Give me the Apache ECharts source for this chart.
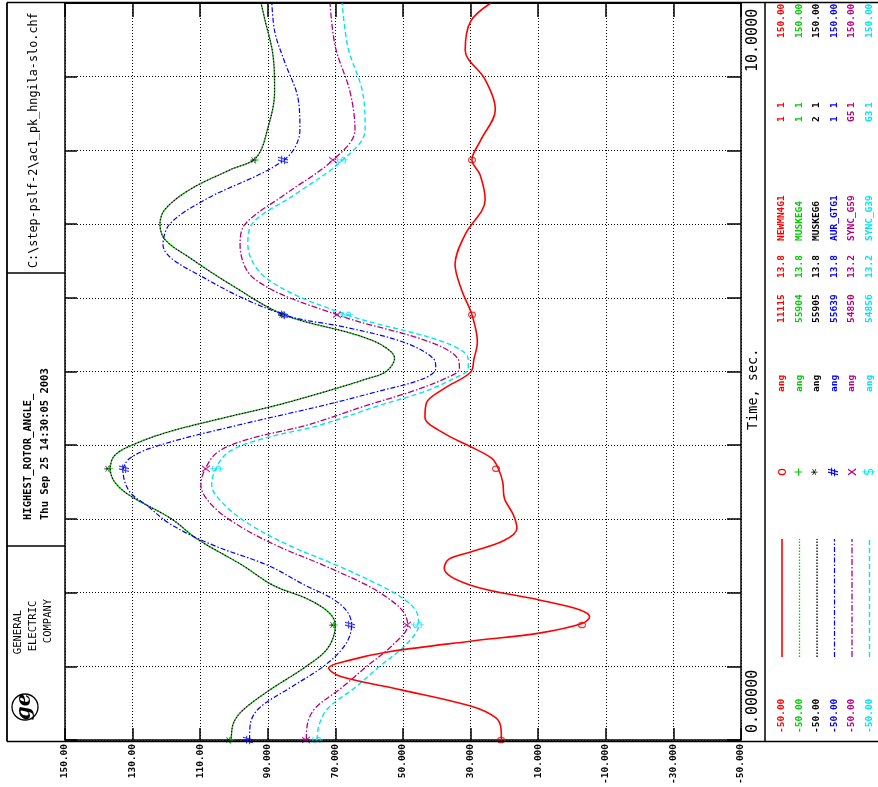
<!DOCTYPE html>
<html><head><meta charset="utf-8">
<script src="https://cdn.jsdelivr.net/npm/echarts@6/dist/echarts.min.js"></script>
<style>html,body{margin:0;padding:0;background:#fff}#c{width:878px;height:787px}</style>
</head><body><div id="c"></div>
<script>
// ---------- data ----------
const angleTicks = [150,130,110,90,70,50,30,10,-10,-30,-50];
const angleTickLabels = ['150.00','130.00','110.00','90.000','70.000','50.000','30.000','10.000','-10.000','-30.000','-50.000'];
const timeTicks = [0,1,2,3,4,5,6,7,8,9,10];
const markTimes = [0,1.56,3.68,5.77,7.87];

const redTime  = [0,0.15,0.3,0.46,0.68,0.86,0.975,1.08,1.2,1.34,1.45,1.58,1.67,1.77,1.9,2.1,2.33,2.45,2.55,2.71,2.87,3.05,3.28,3.5,3.68,3.82,3.98,4.16,4.38,4.58,4.77,4.99,5.17,5.4,5.77,6.1,6.45,6.86,7.33,7.67,7.87,8.14,8.55,8.96,9.36,9.75,10];
const redAngle = [20.9,21,22.5,30,50.5,68.4,72,66,53.7,30,9.7,-3,-5.2,-2,9.7,30,37.8,36.5,30,20,16.3,17.3,20,20.5,21.8,23.7,30,37.8,43.5,43,37.8,30,29,28,29.6,32.6,34.6,31.6,25.7,27.2,29.6,27,22.7,25.7,31.6,30,24];

const greenTime  = [0,0.21,0.39,0.66,1.0,1.25,1.56,1.74,1.92,2.1,2.37,2.73,3.0,3.32,3.5,3.68,3.86,4.0,4.18,4.36,4.54,4.72,4.9,5.0,5.18,5.35,5.5,5.77,6.18,6.54,6.79,7.0,7.2,7.47,7.74,7.9,8.3,8.8,9.3,9.8,10];
const greenAngle = [100.8,100.3,97.7,90,78.6,72.2,70,72.2,78.6,88.5,97.5,111,118.5,130.9,135.3,136.6,135.3,130.2,119.4,104,87.5,73.5,60.7,55,52.5,56,64,85.2,101,113,120.4,121.9,120.4,113,101,93.5,90,88,88.5,91,92];
const blackTime  = greenTime;
const blackAngle = greenAngle;

const blueTime  = [0,0.21,0.43,0.7,1.0,1.29,1.56,1.74,1.92,2.1,2.37,2.64,2.92,3.19,3.37,3.64,3.82,4.0,4.27,4.54,4.72,4.9,5.04,5.17,5.4,5.6,5.77,6.25,6.72,7.0,7.33,7.87,8.28,8.69,9.2,9.6,10];
const blueAngle = [95.4,95.2,92.6,83.7,73.5,67.1,65.2,66.5,71,79,90,106,118.5,126,130.9,132.8,130.9,122,99,73.5,58.2,44.1,40.3,40.9,50,67,85.2,108,121,119,108.6,85.2,80.5,81,85,87.9,88.8];

const magentaTime  = [0,0.21,0.43,0.7,1.0,1.29,1.56,1.74,1.92,2.1,2.37,2.64,2.92,3.19,3.46,3.68,3.91,4.09,4.27,4.54,4.72,4.9,5.04,5.17,5.4,5.77,6.25,6.72,7.0,7.4,7.87,8.28,8.8,9.4,10];
const magentaAngle = [78.6,78.3,76,68.4,60.7,53,48.6,49.9,54.3,60.7,73.5,87.5,99,106.6,109.8,108.5,104.7,95.1,78.6,60.7,48,37.8,33.3,33.7,42,69.5,93.8,98.2,96.7,85,70.7,64.2,65.7,70,71.6];

const cyanTime  = [0,0.21,0.43,0.7,1.0,1.29,1.56,1.74,1.92,2.1,2.37,2.64,2.92,3.19,3.46,3.68,3.91,4.09,4.27,4.54,4.72,4.9,5.04,5.17,5.4,5.77,6.25,6.72,7.0,7.4,7.87,8.28,8.8,9.4,10];
const cyanAngle = [75.4,74.8,72.2,64.5,56.9,49.2,45.4,46,50,56.9,69.6,83.7,95.2,102.8,106.6,105.4,101.5,91.3,74.8,56.9,44.1,35.2,30.7,30.7,38,66.6,90,95.9,94.7,82,67.8,61.2,62,66.3,68];

const redMarks     = [20.9,-3.1,22.4,29.6,29.6];
const greenMarks   = [100.8,70,136.6,85.2,93.5];
const blackMarks   = [100.8,70,136.6,85.2,93.5];
const blueMarks    = [95.4,65.2,132,85.2,85.2];
const magentaMarks = [78.6,48.6,108.2,69.5,70.7];
const cyanMarks    = [75.4,45.4,105,66.6,67.8];

const legendNames = ['NEWMN4G1','MUSKEG4','MUSKEG6','AUR_GTG1','SYNC_G59','SYNC_G39'];
const legendBuses = ['11115','55904','55905','55639','54850','54856'];
const legendKv    = ['13.8','13.8','13.8','13.8','13.2','13.2'];
const legendId1   = ['1','1','2','1','G5','G3'];
const legendId2   = ['1','1','1','1','1','1'];
const legendMin   = ['-50.00','-50.00','-50.00','-50.00','-50.00','-50.00'];
const legendMax   = ['150.00','150.00','150.00','150.00','150.00','150.00'];
const legendQty   = ['ang','ang','ang','ang','ang','ang'];
const markChars   = ['o','+','*','#','x','$'];

// ---------- styles ----------
const styles = [
  {color:'#ff0000', dash:'solid', width:1.6, z:6},
  {color:'#00cc00', dash:[1.5,1.5], width:1.3, z:3, offset:0},
  {color:'#000000', dash:[1.5,1.5], width:1.3, z:4, offset:1.5},
  {color:'#0000ff', dash:[5,2,1.5,2], width:1.2, z:5},
  {color:'#b5007f', dash:[6,2,1.5,2], width:1.3, z:5},
  {color:'#00e5f5', dash:[5,3], width:1.4, z:5}
];
const times  = [redTime,greenTime,blackTime,blueTime,magentaTime,cyanTime];
const angles = [redAngle,greenAngle,blackAngle,blueAngle,magentaAngle,cyanAngle];
const marks  = [redMarks,greenMarks,blackMarks,blueMarks,magentaMarks,cyanMarks];

const MONO = '"DejaVu Sans Mono", "Liberation Mono", monospace';

const series = [];
styles.forEach((s,i)=>{
  series.push({
    type:'line', name: legendNames[i], smooth:0.35, symbol:'none', silent:true, z:s.z,
    data: times[i].map((t,k)=>[angles[i][k], t]),
    lineStyle:{color:s.color, width:s.width, type:s.dash, dashOffset:s.offset||0}
  });
});
styles.forEach((s,i)=>{
  series.push({
    type:'scatter', silent:true, z:8, symbol:'circle', symbolSize:1,
    itemStyle:{color:'rgba(0,0,0,0)'},
    data: markTimes.map((t,k)=>[marks[i][k], t]),
    label:{show:true, position:'inside', formatter: markChars[i], color:s.color,
      fontSize: 14, fontFamily: MONO, rotate:90}
  });
});

// ---------- graphics ----------
const g = [];
function vtext(x, y, text, color, font, align){
  g.push({type:'text', x:x, y:y, rotation:Math.PI/2, silent:true, z:10,
    style:{text:text, fill:color, font:font, align:align||'left', textAlign:align||'left',
      verticalAlign:'middle', textVerticalAlign:'middle'}});
}
function ln(x1,y1,x2,y2,w,color,dash){
  g.push({type:'line', silent:true, z:10, shape:{x1,y1,x2,y2},
    style:{stroke:color||'#000', lineWidth:w||1.5, lineDash:dash||null}});
}
// frame
ln(7,2.5,878,2.5,1.5);
ln(7,741.5,878,741.5,1.5);
ln(7,2.5,7,741.5,1.8);
ln(7,273,65,273,1.5);
ln(7,546,65,546,1.5);
ln(765,2.5,765,741.5,1.5);
// title block
vtext(34, 268, 'C:\\step-pslf-2\\ac1_pk_hngila-slo.chf', '#000', '11.8px '+MONO);
vtext(28, 520, 'HIGHEST_ROTOR_ANGLE_', '#000', 'bold 10.5px '+MONO);
vtext(45, 520, 'Thu Sep 25 14:30:05 2003', '#000', 'bold 10.5px '+MONO);
vtext(18, 632, 'GENERAL', '#000', '10.5px '+MONO, 'center');
vtext(33, 626, 'ELECTRIC', '#000', '10.5px '+MONO, 'center');
vtext(48, 621, 'COMPANY', '#000', '10.5px '+MONO, 'center');
g.push({type:'circle', silent:true, z:10, shape:{cx:25, cy:707, r:13}, style:{fill:'none', stroke:'#000', lineWidth:1.3}});
g.push({type:'text', x:25, y:707, rotation:Math.PI/2, silent:true, z:10,
  style:{text:'ge', fill:'#000', font:'italic bold 20px "DejaVu Serif", serif', align:'center', textAlign:'center', verticalAlign:'middle', textVerticalAlign:'middle'}});
// time axis column
vtext(753, 72, '10.0000', '#000', '15px '+MONO);
vtext(753, 430, 'Time, sec.', '#000', '13.5px '+MONO);
vtext(753, 733, '0.00000', '#000', '15px '+MONO);
// legend columns
styles.forEach((s,i)=>{
  const x = 782 + i*17.5;
  const f = 'bold 9.5px '+MONO;
  vtext(x, 733, legendMin[i], s.color, f);
  g.push({type:'line', silent:true, z:10, shape:{x1:x,y1:657,x2:x,y2:539},
    style:{stroke:s.color, lineWidth:s.width, lineDash: s.dash==='solid'?null:s.dash}});
  vtext(x, 472, markChars[i], s.color, '14px '+MONO, 'center');
  vtext(x, 392, legendQty[i], s.color, f);
  vtext(x, 323, legendBuses[i], s.color, f);
  vtext(x, 278, legendKv[i], s.color, f);
  vtext(x, 241, legendNames[i], s.color, f);
  vtext(x, 122, legendId1[i], s.color, f);
  vtext(x, 108, legendId2[i], s.color, f);
  vtext(x, 38, legendMax[i], s.color, f);
});

const labelFor = v => { const k = angleTicks.findIndex(a => Math.abs(a - v) < 1e-6); return k >= 0 ? angleTickLabels[k] : ''; };
const gridDots = {show:true, lineStyle:{color:'#000', width:1, type:[1,2]}};

const option = {
  animation:false,
  backgroundColor:'#fff',
  grid:{left:65, right:137, top:3, bottom:46, containLabel:false},
  xAxis:[
    {type:'value', position:'bottom', min:-50, max:150, inverse:true,
      axisLine:{show:true, onZero:false, lineStyle:{color:'#000', width:1.5}},
      axisTick:{show:true, inside:true, length:12, customValues:angleTicks, lineStyle:{color:'#000', width:1.5}},
      axisLabel:{show:true, customValues:angleTicks, rotate:90, formatter:labelFor, color:'#000',
        fontFamily:MONO, fontSize:9.5, fontWeight:'bold', margin:4},
      splitLine:gridDots},
    {type:'value', position:'top', min:-50, max:150, inverse:true,
      axisLine:{show:true, onZero:false, lineStyle:{color:'#000', width:1}},
      axisTick:{show:true, inside:true, length:14, customValues:angleTicks, lineStyle:{color:'#000', width:1.5}},
      axisLabel:{show:false}, splitLine:{show:false}}
  ],
  yAxis:[
    {type:'value', position:'left', min:0, max:10, interval:1,
      axisLine:{show:true, onZero:false, lineStyle:{color:'#000', width:1.5}},
      axisTick:{show:true, inside:true, length:12, lineStyle:{color:'#000', width:1.5}},
      axisLabel:{show:false}, splitLine:gridDots},
    {type:'value', position:'right', min:0, max:10, interval:1,
      axisLine:{show:true, onZero:false, lineStyle:{color:'#000', width:1.5}},
      axisTick:{show:true, inside:true, length:14, lineStyle:{color:'#000', width:1.5}},
      axisLabel:{show:false}, splitLine:{show:false}}
  ],
  series: series,
  graphic: g
};
const chart = echarts.init(document.getElementById('c'), null, {renderer:'canvas'});
chart.setOption(option);
</script></body></html>
